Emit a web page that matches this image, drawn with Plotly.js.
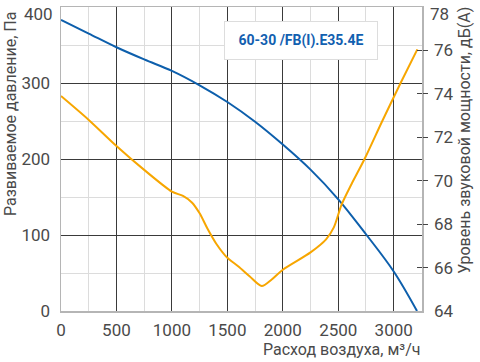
<!DOCTYPE html>
<html>
<head>
<meta charset="utf-8">
<script src="https://cdn.plot.ly/plotly-3.0.1.min.js"></script>
<style>html,body{margin:0;padding:0;background:#fff}#chart{width:480px;height:362px}</style>
</head>
<body>
<div id="chart"></div>
<script>
// Pressure curve (Pa) vs airflow (m3/h)
const flowP = [0, 250, 500, 750, 1000, 1250, 1500, 1750, 2000, 2250, 2500, 2750, 3000, 3210];
const pressure = [383, 365, 347, 331, 316, 297, 275, 249, 219, 186, 147, 101, 52, 0];
// Sound power level (dB(A)) vs airflow
const flowS = [0, 250, 500, 750, 1000, 1100, 1180, 1250, 1320, 1400, 1500, 1600, 1700, 1810, 1900, 2000, 2250, 2390, 2460, 2530, 2620, 2737, 2897, 3062, 3213];
const sound = [73.9, 72.8, 71.6, 70.5, 69.5, 69.3, 69.0, 68.5, 67.8, 67.1, 66.45, 66.05, 65.6, 65.15, 65.45, 65.9, 66.7, 67.3, 67.85, 68.9, 69.85, 71.0, 72.75, 74.5, 76.05];
const xTicks = [0, 500, 1000, 1500, 2000, 2500, 3000];
const yTicks = [0, 100, 200, 300, 400];
const y2Ticks = [64, 66, 68, 70, 72, 74, 76, 78];
const y2Marks = [66, 68, 70, 72, 74, 76];
const modelLabel = '60-30 /FB(I).E35.4E';

const FONT = 'Roboto, "Noto Sans", sans-serif';
const TXT = '#4a4a4a';

const traces = [
  {x: flowP, y: pressure, type: 'scatter', mode: 'lines', line: {color: '#0d5fac', width: 2, shape: 'spline', smoothing: 1}, yaxis: 'y', hoverinfo: 'skip'},
  {x: flowS, y: sound, type: 'scatter', mode: 'lines', line: {color: '#f7a600', width: 2, shape: 'spline', smoothing: 0.8}, yaxis: 'y2', hoverinfo: 'skip'}
];

// top tick labels sit slightly lower than their gridline (as in the reference), drawn as annotations
const yTop = yTicks[yTicks.length - 1];
const y2Top = y2Ticks[y2Ticks.length - 1];

const layout = {
  width: 480, height: 362,
  margin: {l: 61, r: 58, t: 7, b: 51},
  paper_bgcolor: '#fff', plot_bgcolor: '#fff',
  showlegend: false,
  font: {family: FONT, color: TXT, size: 17},
  xaxis: {
    range: [0, 3255], tickvals: xTicks, ticks: '', showgrid: true, gridcolor: '#3a3a3a', gridwidth: 1,
    minor: {dtick: 250, showgrid: true, gridcolor: '#dcdcdc', gridwidth: 1},
    zeroline: false, showline: true, mirror: true, linecolor: '#b5b5b5', linewidth: 1.5,
    tickfont: {family: FONT, size: 17, color: TXT}, ticklabelstandoff: 3, ticklabeloverflow: 'allow'
  },
  yaxis: {
    range: [0, 400], tickvals: yTicks, ticktext: yTicks.map(v => v === yTop ? '' : String(v)), ticks: '',
    showgrid: true, gridcolor: '#3a3a3a', gridwidth: 1,
    minor: {dtick: 50, showgrid: true, gridcolor: '#dcdcdc', gridwidth: 1},
    zeroline: false, showline: true, linecolor: '#b5b5b5', linewidth: 1.5,
    tickfont: {family: FONT, size: 17, color: TXT}, ticklabelstandoff: 6, ticklabeloverflow: 'allow'
  },
  yaxis2: {
    range: [64, 78], overlaying: 'y', side: 'right', anchor: 'x', tickvals: y2Ticks,
    ticktext: y2Ticks.map(v => v === y2Top ? '' : String(v)), ticks: '',
    showgrid: false, zeroline: false, showline: true, linecolor: '#b5b5b5', linewidth: 1.5,
    tickfont: {family: FONT, size: 17, color: TXT}, ticklabelstandoff: 7, ticklabeloverflow: 'allow'
  },
  yaxis3: {
    range: [64, 78], overlaying: 'y', side: 'right', anchor: 'x', tickvals: y2Marks, ticks: 'outside', ticklen: 5,
    tickcolor: '#444', tickwidth: 1.2, showticklabels: false, showgrid: false, zeroline: false, showline: false
  },
  yaxis4: {
    range: [64, 78], overlaying: 'y', side: 'right', anchor: 'x', tickvals: y2Marks, ticks: 'inside', ticklen: 5,
    tickcolor: '#444', tickwidth: 1.2, showticklabels: false, showgrid: false, zeroline: false, showline: false
  },
  annotations: [
    {text: String(yTop), xref: 'paper', yref: 'y', x: 0, y: yTop, xanchor: 'right', yanchor: 'middle',
     xshift: -6, yshift: -7, showarrow: false, font: {family: FONT, size: 17, color: TXT}},
    {text: String(y2Top), xref: 'paper', yref: 'y2', x: 1, y: y2Top, xanchor: 'left', yanchor: 'middle',
     xshift: 6, yshift: -7, showarrow: false, font: {family: FONT, size: 17, color: TXT}},
    {text: modelLabel, xref: 'paper', yref: 'paper', x: 0.665, y: 0.89, xanchor: 'center', yanchor: 'middle',
     showarrow: false, font: {family: 'Roboto, sans-serif', size: 14, color: '#1260b0', weight: 'bold'},
     bgcolor: '#fff', bordercolor: '#dddddd', borderwidth: 1, width: 146, height: 31, borderpad: 3},
    {text: 'Расход воздуха, м³/ч', xref: 'paper', yref: 'paper', x: 1.0, y: 0, xanchor: 'right', yanchor: 'middle',
     yshift: -38, showarrow: false, font: {family: FONT, size: 16, color: TXT}},
    {text: 'Развиваемое давление, Па', xref: 'paper', yref: 'paper', x: 0, y: 0.648, xanchor: 'center', yanchor: 'middle',
     xshift: -51, textangle: -90, showarrow: false, font: {family: FONT, size: 16, color: TXT}},
    {text: 'Уровень звуковой мощности, дБ(А)', xref: 'paper', yref: 'paper', x: 1, y: 0.56, xanchor: 'center', yanchor: 'middle',
     xshift: 43, textangle: -90, showarrow: false, font: {family: FONT, size: 16, color: TXT}}
  ]
};

// invisible traces that activate the tick-only axes y3 / y4
traces.push({x: [0], y: [70], yaxis: 'y3', mode: 'markers', marker: {opacity: 0}, hoverinfo: 'skip'});
traces.push({x: [0], y: [70], yaxis: 'y4', mode: 'markers', marker: {opacity: 0}, hoverinfo: 'skip'});

Plotly.newPlot('chart', traces, layout, {staticPlot: true});
</script>
</body>
</html>
